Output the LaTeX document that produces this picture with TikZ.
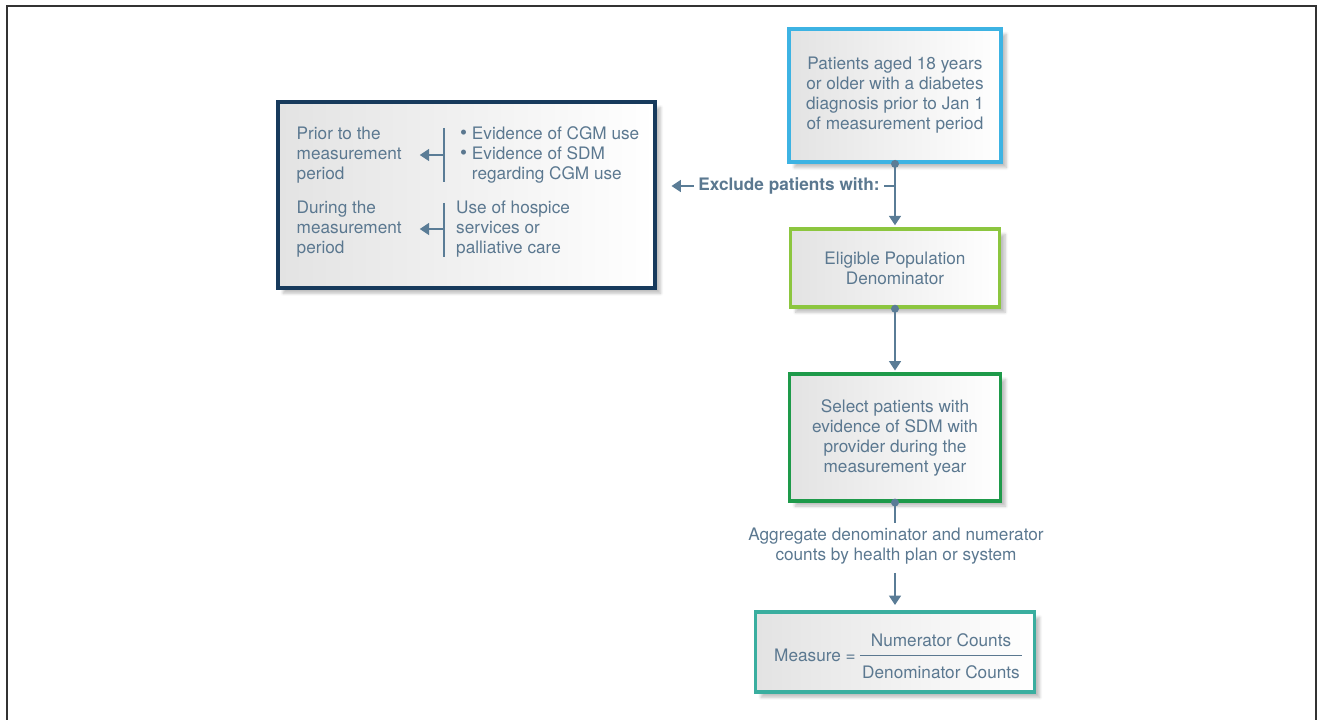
\documentclass[tikz,border=0pt]{standalone}
\usepackage{fontspec}
\setmainfont{TeX Gyre Heros}
\usetikzlibrary{arrows.meta,shadows.blur}
\definecolor{FlowText}{HTML}{5B7890}
\definecolor{FlowLine}{HTML}{5A7C96}
\definecolor{FlowBlue}{HTML}{3DB3E3}
\definecolor{FlowLime}{HTML}{8CC63F}
\definecolor{FlowGreen}{HTML}{1E9A4A}
\definecolor{FlowTeal}{HTML}{3AAE9F}
\definecolor{FlowNavy}{HTML}{173A5C}
\definecolor{FlowFrame}{HTML}{333333}
\newcommand{\flowbullet}{{\fontsize{15}{15}\selectfont\textbullet}\ }

\begin{document}
\begin{tikzpicture}[x=0.75pt,y=-0.75pt,font=\fontsize{12.9}{15}\selectfont,text=FlowText,
  flowbox/.style={draw=#1,line width=2.6pt,left color=black!11,right color=white,
    blur shadow={shadow xshift=4pt,shadow yshift=-4pt,shadow opacity=25,shadow blur steps=6},
    align=center,inner sep=0pt},
  flowline/.style={draw=FlowLine,line width=1.1pt},
  flowarrow/.style={flowline,-{Triangle[length=7pt,width=9pt]}},
  flowdot/.style={circle,fill=FlowLine,inner sep=0pt,minimum size=6pt}]
  \useasboundingbox (0,0) rectangle (1318,720);
  \draw[FlowFrame,line width=1.5pt] (6.5,720) -- (6.5,6.5) -- (1315.5,6.5) -- (1315.5,720);

  % main column
  \node[flowbox=FlowBlue,minimum width=159pt,minimum height=100pt] (patients) at (895,95.5) {Patients aged 18 years\\or older with a diabetes\\diagnosis prior to Jan 1\\of measurement period};
  \node[flowbox=FlowLime,minimum width=157pt,minimum height=58.5pt] (eligible) at (895,268) {Eligible Population\\Denominator};
  \node[flowbox=FlowGreen,minimum width=158pt,minimum height=95pt] (select) at (895,437.5) {Select patients with\\evidence of SDM with\\provider during the\\measurement year};
  \node[align=center] (aggregate) at (896,546) {Aggregate denominator and numerator\\counts by health plan or system};
  \node[flowbox=FlowTeal,minimum width=209pt,minimum height=60pt] (measure) at (895,652) {};
  \node (measurelbl) at (815,655) {Measure =};
  \node (numer) at (941,640) {Numerator Counts};
  \node (denom) at (941,672) {Denominator Counts};
  \draw[FlowText,line width=0.6pt,shorten <=2pt,shorten >=2pt] (denom.west |- measurelbl) -- (denom.east |- measurelbl);

  % exclusions
  \node[flowbox=FlowNavy,minimum width=283pt,minimum height=139.5pt] (exclbox) at (466.5,195) {};
  \node[font=\fontsize{12.9}{15}\selectfont\bfseries] (exclude) at (789,186) {Exclude patients with:};
  \coordinate (split) at (patients.south |- exclude);

  \node[anchor=west,align=left] (prior) at (292,155) {Prior to the\\measurement\\period};
  \node[anchor=west,align=left] (priorwhy) at (455.5,155) {\flowbullet Evidence of CGM use\\\flowbullet Evidence of SDM\\\phantom{\flowbullet}regarding CGM use};
  \node[anchor=west,align=left] (during) at (292,229) {During the\\measurement\\period};
  \node[anchor=west,align=left] (duringwhy) at (451.5,229) {Use of hospice\\services or\\palliative care};
  \coordinate (priorbar) at (444,155);
  \coordinate (duringbar) at (444,229);
  \draw[flowline] (444,128) -- (444,182);
  \draw[flowline] (444,203) -- (444,257);
  \draw[flowarrow,shorten >=10pt] (priorbar) -- (prior.east);
  \draw[flowarrow,shorten >=10pt] (duringbar) -- (during.east);

  % connectors
  \draw[flowarrow,shorten >=1.5pt] (patients.south) -- (eligible.north);
  \draw[flowline] (split) -- (exclude.east);
  \draw[flowarrow,shorten >=11pt] (exclude.west) -- (exclbox.east |- exclude);
  \draw[flowarrow,shorten >=1.5pt] (eligible.south) -- (select.north);
  \draw[flowline] (select.south) -- (select.south |- aggregate.north);
  \draw[flowarrow,shorten <=3pt,shorten >=4pt] (measure.north |- aggregate.south) -- (measure.north);
  \node[flowdot] (dotpatients) at (patients.south) {};
  \node[flowdot] (doteligible) at (eligible.south) {};
  \node[flowdot] (dotselect) at (select.south) {};
\end{tikzpicture}
\end{document}
